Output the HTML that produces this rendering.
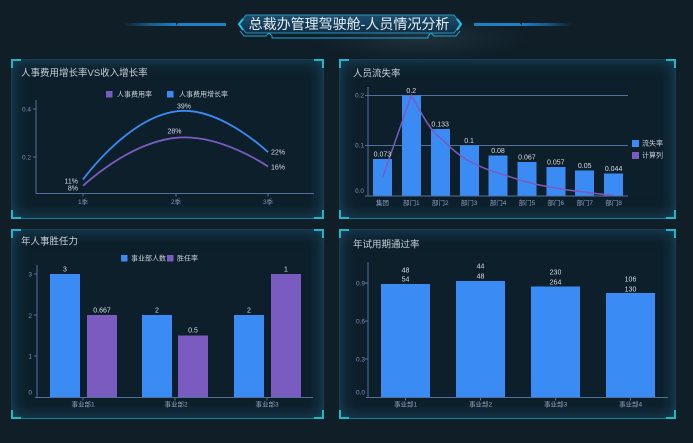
<!DOCTYPE html>
<html>
<head>
<meta charset="utf-8">
<style>
html,body{margin:0;padding:0;background:#0f1e27;}
body{width:693px;height:443px;overflow:hidden;position:relative;font-family:"Liberation Sans","Noto Sans CJK SC",sans-serif;}
.panel{position:absolute;background:#0d1f2b;box-shadow:inset 0 0 16px rgba(30,86,116,0.8);border:1px solid rgba(34,90,118,0.55);border-bottom:1px solid #1b7aa0;box-sizing:border-box;}
svg{position:absolute;left:0;top:0;}
</style>
</head>
<body>
<div class="panel" style="left:11px;top:59px;width:313px;height:160px;"></div>
<div class="panel" style="left:339px;top:59px;width:337px;height:160px;"></div>
<div class="panel" style="left:11px;top:229px;width:313px;height:190px;"></div>
<div class="panel" style="left:339px;top:229px;width:337px;height:190px;"></div>

<svg width="693" height="443" viewBox="0 0 693 443" xmlns="http://www.w3.org/2000/svg" font-family="Liberation Sans, Noto Sans CJK SC, sans-serif">
<defs>
<linearGradient id="tg" x1="0" y1="0" x2="0" y2="1">
<stop offset="0" stop-color="#1c4f6e"/>
<stop offset="1" stop-color="#0f2f47"/>
</linearGradient>
<linearGradient id="ll" x1="0" y1="0" x2="1" y2="0">
<stop offset="0" stop-color="#1a6aa0" stop-opacity="0"/>
<stop offset="0.5" stop-color="#1a6aa0" stop-opacity="0.8"/>
<stop offset="1" stop-color="#1f7fc0"/>
</linearGradient>
<linearGradient id="lr" x1="1" y1="0" x2="0" y2="0">
<stop offset="0" stop-color="#1a6aa0" stop-opacity="0"/>
<stop offset="0.5" stop-color="#1a6aa0" stop-opacity="0.8"/>
<stop offset="1" stop-color="#1f7fc0"/>
</linearGradient>
<radialGradient id="glow" cx="0.5" cy="0.5" r="0.5">
<stop offset="0" stop-color="#3a5462" stop-opacity="0.35"/>
<stop offset="1" stop-color="#3a5462" stop-opacity="0"/>
</radialGradient>
</defs>

<!-- header -->
<ellipse cx="420" cy="38" rx="110" ry="22" fill="url(#glow)"/>
<rect x="123" y="23" width="53" height="3" fill="url(#ll)"/>
<polygon points="178,23 226,23 226,26 176,26" fill="#1f7fc0"/>
<rect x="522" y="23" width="50" height="3" fill="url(#lr)"/>
<polygon points="474,23 520,23 522,26 474,26" fill="#1f7fc0"/>
<polygon points="246,15 454,15 461,24 454,33 246,33 239,24" fill="url(#tg)" stroke="#2b8fbd" stroke-width="1"/>
<polyline points="243,19 239,24 243,30" fill="none" stroke="#22c4f0" stroke-width="2"/>
<polyline points="457,19 461,24 457,30" fill="none" stroke="#22c4f0" stroke-width="2"/>
<polyline points="240,31 244,36 266,36 269,33 272,36 272,38 428,38 428,36 431,33 434,36 456,36 460,31" fill="none" stroke="#1fa5d0" stroke-width="1"/>
<text x="349" y="29" text-anchor="middle" font-size="14" fill="#e6eef6">总裁办管理驾驶舱-人员情况分析</text>

<!-- corner brackets -->
<g stroke="#21b6c8" stroke-width="2" fill="none">
<polyline points="12,68 12,60 21,60"/><polyline points="314,60 323,60 323,68"/>
<polyline points="12,210 12,218 21,218"/><polyline points="314,218 323,218 323,210"/>
<polyline points="340,68 340,60 349,60"/><polyline points="666,60 675,60 675,68"/>
<polyline points="340,210 340,218 349,218"/><polyline points="666,218 675,218 675,210"/>
<polyline points="12,238 12,230 21,230"/><polyline points="314,230 323,230 323,238"/>
<polyline points="12,410 12,418 21,418"/><polyline points="314,418 323,418 323,410"/>
<polyline points="340,238 340,230 349,230"/><polyline points="666,230 675,230 675,238"/>
<polyline points="340,410 340,418 349,418"/><polyline points="666,418 675,418 675,410"/>
</g>

<!-- titles -->
<g font-size="9.5" fill="#c6d0da">
<text x="21" y="76">人事费用增长率VS收入增长率</text>
<text x="353" y="76.5">人员流失率</text>
<text x="21" y="244.5">年人事胜任力</text>
<text x="353" y="247.5">年试用期通过率</text>
</g>

<!-- ===== Chart 1 ===== -->
<rect x="106" y="91" width="6.5" height="6.5" fill="#7a5bbf"/>
<text x="117" y="96.5" font-size="7" fill="#c6d0da">人事费用率</text>
<rect x="167" y="91" width="6.5" height="6.5" fill="#3a8cf4"/>
<text x="179" y="96.5" font-size="7" fill="#c6d0da">人事费用增长率</text>
<g stroke="#52709e" stroke-width="1">
<line x1="36" y1="100" x2="36" y2="193.5"/>
<line x1="36" y1="193.5" x2="314" y2="193.5"/>
<line x1="33" y1="109" x2="36" y2="109"/>
<line x1="33" y1="157" x2="36" y2="157"/>
<line x1="83" y1="193.5" x2="83" y2="196.5"/>
<line x1="176" y1="193.5" x2="176" y2="196.5"/>
<line x1="268" y1="193.5" x2="268" y2="196.5"/>
</g>
<g font-size="6.5" fill="#7f93b5">
<text x="31" y="111.5" text-anchor="end">0.4</text>
<text x="31" y="159.5" text-anchor="end">0.2</text>
<text x="83" y="204" text-anchor="middle">1季</text>
<text x="176" y="204" text-anchor="middle">2季</text>
<text x="268" y="204" text-anchor="middle">3季</text>
</g>
<path d="M83,185.8 C83,185.8 127.8,142.85 176,137.8 C220.3,133.15 268,166.6 268,166.6" fill="none" stroke="#7a5bbf" stroke-width="1.8"/>
<path d="M83,179.6 C83,179.6 126.7,118.4 176,111.4 C219.2,105.2 268,152.2 268,152.2" fill="none" stroke="#3a8cf4" stroke-width="1.8"/>
<g font-size="7" fill="#d6dde6">
<text x="78" y="183.5" text-anchor="end">11%</text>
<text x="78" y="190.5" text-anchor="end">8%</text>
<text x="184" y="108.5" text-anchor="middle">39%</text>
<text x="174.5" y="133.5" text-anchor="middle">28%</text>
<text x="271" y="154.5">22%</text>
<text x="271" y="169.5">16%</text>
</g>

<!-- ===== Chart 2 ===== -->
<g stroke="#52709e" stroke-width="1">
<line x1="368" y1="95.5" x2="628" y2="95.5"/>
<line x1="368" y1="145.5" x2="628" y2="145.5"/>
</g>
<g fill="#3a8cf4">
<rect x="373" y="159" width="19" height="36.5"/>
<rect x="402" y="95.5" width="19" height="100"/>
<rect x="431" y="129" width="19" height="66.5"/>
<rect x="460" y="145.5" width="19" height="50"/>
<rect x="488.5" y="155.5" width="19" height="40"/>
<rect x="517.5" y="162" width="19" height="33.5"/>
<rect x="546.5" y="167" width="19" height="28.5"/>
<rect x="575" y="170.5" width="19" height="25"/>
<rect x="604" y="173.5" width="19" height="22"/>
</g>
<g stroke="#52709e" stroke-width="1">
<line x1="368" y1="87" x2="368" y2="196"/>
<line x1="368" y1="196" x2="628" y2="196"/>
<line x1="365" y1="95.5" x2="368" y2="95.5"/>
<line x1="365" y1="145.5" x2="368" y2="145.5"/>
<line x1="365" y1="196" x2="368" y2="196"/>
</g>
<path d="M382.4,178 L411.3,95.5 C420,110 428,128 440.2,138 C450,147 458,155 469.1,161 C480,167 488,170 498,173 C508,176 516,179 526.9,182 C538,185 546,186.5 555.8,188 C566,190 575,191 584.7,192 C595,193.5 604,194.5 613.6,195.5" fill="none" stroke="#7a5bbf" stroke-width="1.5"/>
<g font-size="6.5" fill="#7f93b5">
<text x="364" y="97.5" text-anchor="end">0.2</text>
<text x="364" y="147.5" text-anchor="end">0.1</text>
<text x="364" y="193" text-anchor="end">0.0</text>
</g>
<g font-size="6.5" fill="#8ea0c0" text-anchor="middle">
<text x="382.4" y="205">集团</text>
<text x="411.3" y="205">部门1</text>
<text x="440.2" y="205">部门2</text>
<text x="469.1" y="205">部门3</text>
<text x="498" y="205">部门4</text>
<text x="526.9" y="205">部门5</text>
<text x="555.8" y="205">部门6</text>
<text x="584.7" y="205">部门7</text>
<text x="613.6" y="205">部门8</text>
</g>
<g font-size="7" fill="#d6dde6" text-anchor="middle">
<text x="382.4" y="156.5">0.073</text>
<text x="411.3" y="93">0.2</text>
<text x="440.2" y="126.5">0.133</text>
<text x="469.1" y="143">0.1</text>
<text x="498" y="153">0.08</text>
<text x="526.9" y="159.5">0.067</text>
<text x="555.8" y="164.5">0.057</text>
<text x="584.7" y="168">0.05</text>
<text x="613.6" y="171">0.044</text>
</g>
<rect x="632" y="140" width="7" height="7" fill="#3a8cf4"/>
<text x="642" y="145.5" font-size="7" fill="#c6d0da">流失率</text>
<rect x="632" y="152" width="7" height="7" fill="#7a5bbf"/>
<text x="642" y="157.5" font-size="7" fill="#c6d0da">计算列</text>

<!-- ===== Chart 3 ===== -->
<rect x="121" y="255" width="6.5" height="6.5" fill="#3a8cf4"/>
<text x="131" y="260.5" font-size="7" fill="#c6d0da">事业部人数</text>
<rect x="167" y="255" width="6.5" height="6.5" fill="#7a5bbf"/>
<text x="177" y="260.5" font-size="7" fill="#c6d0da">胜任率</text>
<rect x="50" y="274" width="30" height="123" fill="#3a8cf4"/>
<rect x="87" y="315" width="30" height="82" fill="#7a5bbf"/>
<rect x="142" y="315" width="30" height="82" fill="#3a8cf4"/>
<rect x="178" y="335.5" width="30" height="61.5" fill="#7a5bbf"/>
<rect x="234" y="315" width="30" height="82" fill="#3a8cf4"/>
<rect x="271" y="274" width="30" height="123" fill="#7a5bbf"/>
<g stroke="#52709e" stroke-width="1">
<line x1="37" y1="265" x2="37" y2="397.5"/>
<line x1="35" y1="397.5" x2="313" y2="397.5"/>
<line x1="34" y1="274" x2="37" y2="274"/>
<line x1="34" y1="315" x2="37" y2="315"/>
<line x1="34" y1="356" x2="37" y2="356"/>
<line x1="83" y1="397.5" x2="83" y2="400.5"/>
<line x1="175" y1="397.5" x2="175" y2="400.5"/>
<line x1="267" y1="397.5" x2="267" y2="400.5"/>
</g>
<g font-size="6.5" fill="#7f93b5" text-anchor="end">
<text x="32" y="276.5">3</text>
<text x="32" y="318">2</text>
<text x="32" y="358.5">1</text>
<text x="32" y="394.5">0</text>
</g>
<g font-size="6.5" fill="#8ea0c0" text-anchor="middle">
<text x="83" y="406.5">事业部1</text>
<text x="176" y="406.5">事业部2</text>
<text x="267" y="406.5">事业部3</text>
</g>
<g font-size="7" fill="#d6dde6" text-anchor="middle">
<text x="65" y="271.5">3</text>
<text x="102" y="312.5">0.667</text>
<text x="157" y="312.5">2</text>
<text x="193" y="332.5">0.5</text>
<text x="249" y="312.5">2</text>
<text x="286" y="271.5">1</text>
</g>

<!-- ===== Chart 4 ===== -->
<rect x="381" y="284" width="49" height="113" fill="#3a8cf4"/>
<rect x="456" y="281" width="49" height="116" fill="#3a8cf4"/>
<rect x="531" y="286.5" width="49" height="110.5" fill="#3a8cf4"/>
<rect x="606" y="293" width="49" height="104" fill="#3a8cf4"/>
<g stroke="#52709e" stroke-width="1">
<line x1="368" y1="262" x2="368" y2="397.5"/>
<line x1="366" y1="397.5" x2="668" y2="397.5"/>
<line x1="365" y1="283" x2="368" y2="283"/>
<line x1="365" y1="321" x2="368" y2="321"/>
<line x1="365" y1="359" x2="368" y2="359"/>
<line x1="405.5" y1="397.5" x2="405.5" y2="400.5"/>
<line x1="480.5" y1="397.5" x2="480.5" y2="400.5"/>
<line x1="555.5" y1="397.5" x2="555.5" y2="400.5"/>
<line x1="630.5" y1="397.5" x2="630.5" y2="400.5"/>
</g>
<g font-size="6.5" fill="#7f93b5" text-anchor="end">
<text x="365" y="285.5">0.9</text>
<text x="365" y="323.5">0.6</text>
<text x="365" y="361.5">0.3</text>
<text x="365" y="394.5">0.0</text>
</g>
<g font-size="6.5" fill="#8ea0c0" text-anchor="middle">
<text x="405.5" y="406.5">事业部1</text>
<text x="480.5" y="406.5">事业部2</text>
<text x="555.5" y="406.5">事业部3</text>
<text x="630.5" y="406.5">事业部4</text>
</g>
<g font-size="7" fill="#d6dde6" text-anchor="middle">
<text x="405.5" y="272.5">48</text>
<text x="405.5" y="281.5">54</text>
<text x="480.5" y="268.5">44</text>
<text x="480.5" y="278.5">48</text>
<text x="555.5" y="274.5">230</text>
<text x="555.5" y="284.5">264</text>
<text x="630.5" y="281.5">106</text>
<text x="630.5" y="291.5">130</text>
</g>
</svg>
</body>
</html>
